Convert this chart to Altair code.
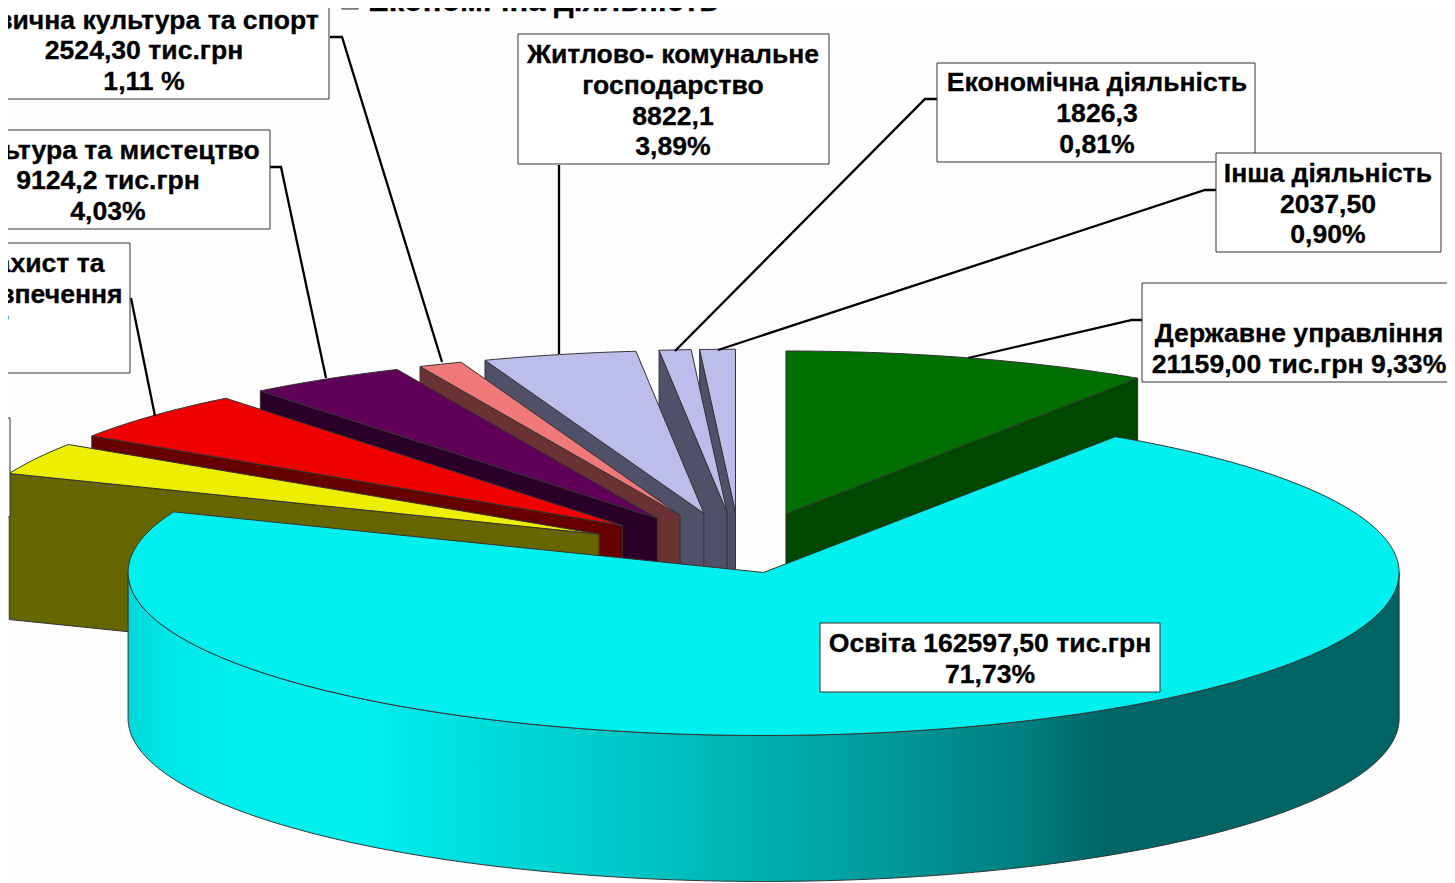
import math
import altair as alt
import pandas as pd

# ---- chart values
slices = ["Державне управління", "Освіта", "Охорона здоров'я", "Соціальний захист та соціальне забезпечення",
          "Культура та мистецтво", "Фізична культура та спорт", "Житлово- комунальне господарство",
          "Економічна діяльність", "Інша діяльність"]
values = [21159.0, 162597.5, 7258.0, 11330.7, 9124.2, 2524.3, 8822.1, 1826.3, 2037.5]
face_colors = ["#007000", "#00F0F0", "#EEEE00", "#F00000", "#600058", "#F07878", "#BDBDEC", "#BDBDEC", "#BDBDEC"]
wall_colors = ["#004800", "#006666", "#666600", "#660000", "#2A0028", "#6A3232", "#505068", "#505068", "#505068"]
pull = [0.25, 0.125, 0.25, 0.25, 0.25, 0.25, 0.25, 0.25, 0.25]

# ---- layout of the tilted, exploded pie (in picture pixels)
CX, CY, RX, RY, DEPTH = 740.0, 553.0, 635.5, 163.0, 146.0
FONT = "Liberation Sans"
FS = 26.6

total = sum(values)
angles = []
cur = 90.0
for v in values:
    nxt = cur - 360.0 * v / total
    angles.append((cur, nxt))
    cur = nxt


def ell(t, ox, oy, dy=0.0):
    r = math.radians(t)
    return (ox + RX * math.cos(r), oy - RY * math.sin(r) + dy)


X = alt.X("x:Q", scale=alt.Scale(domain=[8, 1447], nice=False, zero=False), axis=None)
Y = alt.Y("y:Q", scale=alt.Scale(domain=[883, 8], nice=False, zero=False), axis=None)


def poly_layer(points, fill, stroke="#333333", sw=1.0):
    df = pd.DataFrame([{"i": i, "x": p[0], "y": p[1]} for i, p in enumerate(points + [points[0]])])
    return alt.Chart(df).mark_line(fill=fill, stroke=stroke, strokeWidth=sw, clip=True, strokeJoin="round").encode(
        x=X, y=Y, order="i:Q")


layers = []
order = [8, 7, 6, 5, 4, 3, 2, 0]  # back slices first
centers = {}
for k in range(len(values)):
    a0, a1 = angles[k]
    mid = math.radians((a0 + a1) / 2)
    centers[k] = (CX + pull[k] * RX * math.cos(mid), CY - pull[k] * RY * math.sin(mid))


def arc(k, dy=0.0, t0=None, t1=None):
    a0, a1 = angles[k]
    t0 = a0 if t0 is None else t0
    t1 = a1 if t1 is None else t1
    n = max(2, int(abs(t1 - t0)) * 2 + 1)
    ox, oy = centers[k]
    return [ell(t0 + (t1 - t0) * i / (n - 1), ox, oy, dy) for i in range(n)]


for k in order:
    a0, a1 = angles[k]
    ox, oy = centers[k]
    edge = a1 if k == 0 else a0  # the cut face that looks towards the viewer
    o = ell(edge, ox, oy)
    wall = [(ox, oy), o, (o[0], o[1] + DEPTH), (ox, oy + DEPTH)]
    layers.append(poly_layer(wall, wall_colors[k]))
    layers.append(poly_layer([(ox, oy)] + arc(k), face_colors[k]))

# the large front slice: shaded outer wall, then its top face
edu = 1
wall_top = arc(edu, 0.0, 0.0, -180.0)
wall_bot = arc(edu, DEPTH, -180.0, 0.0)
grad = alt.Gradient(gradient="linear", x1=0, x2=1, y1=0, y2=0, stops=[
    alt.GradientStop(offset=0.0, color="#00D8D8"),
    alt.GradientStop(offset=0.03, color="#00E6E6"),
    alt.GradientStop(offset=0.09, color="#00F0F0"),
    alt.GradientStop(offset=0.18, color="#00F0F0"),
    alt.GradientStop(offset=0.30, color="#00D8D8"),
    alt.GradientStop(offset=0.39, color="#00C8C8"),
    alt.GradientStop(offset=0.57, color="#00A0A0"),
    alt.GradientStop(offset=0.70, color="#008080"),
    alt.GradientStop(offset=0.77, color="#006666"),
    alt.GradientStop(offset=1.0, color="#006464"),
])
layers.append(poly_layer(wall_top + wall_bot, grad))
layers.append(poly_layer([centers[edu]] + arc(edu), face_colors[edu]))

# ---- leader lines
leaders = {
    "gov": [(968, 358), (1132, 320), (1142, 320)],
    "other": [(718, 350), (1205, 190), (1216, 190)],
    "econ": [(675, 351), (925, 99), (937, 99)],
    "house": [(559, 354), (559, 165)],
    "sport": [(442, 362), (342, 37), (330, 37)],
    "cult": [(326, 378), (281, 167), (270, 167)],
    "soc": [(155, 416), (131, 298)],
}
rows = [{"l": n, "i": i, "x": p[0], "y": p[1]} for n, pts in leaders.items() for i, p in enumerate(pts)]
layers.append(alt.Chart(pd.DataFrame(rows)).mark_line(color="black", strokeWidth=2.3, clip=True).encode(
    x=X, y=Y, detail="l:N", order="i:Q"))

# ---- label boxes and their text
boxes = pd.DataFrame([
    dict(x=1142, x2=1470, y=283, y2=382),
    dict(x=937, x2=1255, y=63, y2=162),
    dict(x=1216, x2=1441, y=153, y2=252),
    dict(x=518, x2=829, y=34, y2=164),
    dict(x=-60, x2=329, y=-20, y2=99),
    dict(x=-60, x2=270, y=130, y2=229),
    dict(x=-200, x2=130, y=243, y2=373),
    dict(x=-200, x2=10, y=418, y2=517),
    dict(x=820, x2=1160, y=623, y2=692),
])
layers.append(alt.Chart(boxes).mark_rect(fill="white", stroke="#333333", strokeWidth=1, clip=True).encode(
    x=X, x2="x2:Q", y=Y, y2="y2:Q"))

swatch = pd.DataFrame([dict(x=342, x2=358, y=-8, y2=9)])
layers.append(alt.Chart(swatch).mark_rect(fill="#BDBDEC", stroke="#333333", strokeWidth=1, clip=True).encode(
    x=X, x2="x2:Q", y=Y, y2="y2:Q"))

labels = [
    (1299, 334, "Державне управління"), (1299, 365, "21159,00 тис.грн 9,33%"),
    (1097, 83, "Економічна діяльність"), (1097, 114, "1826,3"), (1097, 145, "0,81%"),
    (1328, 174, "Інша діяльність"), (1328, 205, "2037,50"), (1328, 235, "0,90%"),
    (673, 55, "Житлово- комунальне"), (673, 86, "господарство"), (673, 117, "8822,1"), (673, 147, "3,89%"),
    (144, 21, "Фізична культура та спорт"), (144, 51, "2524,30 тис.грн"), (144, 82, "1,11 %"),
    (108, 151, "Культура та мистецтво"), (108, 181, "9124,2 тис.грн"), (108, 212, "4,03%"),
    (-38, 264, "Соціальний захист та"), (-38, 295, "соціальне забезпечення"), (-38, 326, "11330,7"),
    (990, 644, "Освіта 162597,50 тис.грн"), (990, 675, "71,73%"),
]
ldf = pd.DataFrame(labels, columns=["x", "y", "t"])
layers.append(alt.Chart(ldf).mark_text(font=FONT, fontWeight="bold", fontSize=FS, color="black",
                                       stroke="black", strokeWidth=0.3,
                                       align="center", baseline="middle", clip=True).encode(
    x=X, y=Y, text="t:N"))

head = pd.DataFrame([dict(x=368, y=2, t="Економічна діяльність")])
layers.append(alt.Chart(head).mark_text(font=FONT, fontWeight="bold", fontSize=31, color="black",
                                        stroke="black", strokeWidth=0.3,
                                        align="left", baseline="middle", clip=True).encode(
    x=X, y=Y, text="t:N"))

chart = alt.layer(*layers).properties(
    width=1439, height=875, padding=0, background="#FDFDFD",
    autosize=alt.AutoSizeParams(type="none")
).configure_view(stroke=None)

chart.save("out.html", embed_options={"renderer": "svg", "actions": False})
